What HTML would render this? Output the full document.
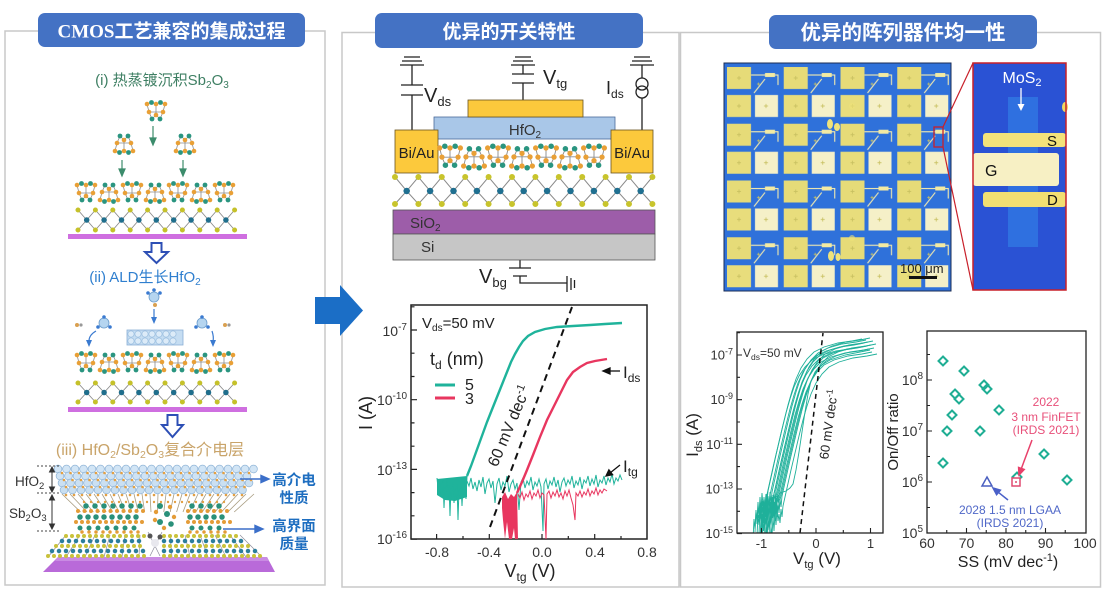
<!DOCTYPE html>
<html><head><meta charset="utf-8"><title>MoS2 device figure</title>
<style>
html,body{margin:0;padding:0;background:#fff;width:1102px;height:594px;overflow:hidden}
svg{display:block}
text{font-family:"Liberation Sans","Noto Sans CJK SC",sans-serif}
</style></head><body>
<svg xmlns="http://www.w3.org/2000/svg" width="1102" height="594" viewBox="0 0 1102 594">
<defs>
 <g id="cg">
  <path d="M-9,-7 L-4.5,-8.5 L0,-7 L4.5,-8.5 L9,-7 M-9,-7 L-7,1 L-4,8 L0,4 L4,8 L7,1 L9,-7 M0,-7 V4 M-7,1 L7,1" fill="none" stroke="#8c8c8c" stroke-width="0.8"/>
  <g fill="#e9a036"><circle cx="-9" cy="-7" r="2.3"/><circle cx="0" cy="-7" r="2.3"/><circle cx="9" cy="-7" r="2.3"/><circle cx="-7" cy="1" r="2.3"/><circle cx="7" cy="1" r="2.3"/><circle cx="0" cy="4" r="2.3"/></g>
  <g fill="#2a9580"><circle cx="-4.5" cy="-8.5" r="2.4"/><circle cx="4.5" cy="-8.5" r="2.4"/><circle cx="-4" cy="8" r="2.4"/><circle cx="4" cy="8" r="2.4"/></g>
 </g>
 <pattern id="dev" patternUnits="userSpaceOnUse" x="724" y="63" width="56.75" height="56.75">
  <rect width="56.75" height="56.75" fill="#2f71da"/>
  <rect x="3" y="4" width="24" height="22" fill="#e6db78"/>
  <rect x="3" y="32" width="24" height="22" fill="#e8dd7c"/>
  <rect x="31" y="32" width="23" height="22" fill="#f5f0c8"/>
  <path d="M27,12 H54 V22 M30,30 L41,16" fill="none" stroke="#f0e9b0" stroke-width="1.1"/>
  <rect x="41" y="10" width="10" height="4" fill="#f3eaa2"/>
  <path d="M13,15h4M15,13v4M13,43h4M15,41v4M40,43h4M42,41v4M33,21h3M34.5,19.5v3" stroke="#c8c060" stroke-width="0.8"/>
 </pattern>
 <clipPath id="clip1"><rect x="737" y="332" width="146" height="201"/></clipPath>
 <path id="c1" d="M759,533 L760,512 761,522 762,503 763,517 764,498 765,511 766,494 767,507 768,500 769,509 770,495 771,503 772,492 L776,474 780,456 784,439 788,422 792,406 796,392 800,380 805,369 811,360 818,353 828,348 842,344 856,342 866,340"/>
</defs>
<rect width="1102" height="594" fill="#fff"/>

<!-- panel borders -->
<g fill="none" stroke="#c8c8c8" stroke-width="1.5">
 <rect x="5" y="31" width="320" height="554"/>
 <rect x="342" y="32.5" width="337" height="554.5"/>
 <rect x="680.5" y="32.5" width="420" height="554.5"/>
</g>

<!-- title tabs -->
<rect x="38" y="13" width="267" height="34" rx="7" fill="#4472c4"/>
<text x="171.5" y="37.5" text-anchor="middle" font-size="19" font-weight="bold" fill="#fff"><tspan font-family="Liberation Serif">CMOS</tspan>工艺兼容的集成过程</text>
<rect x="375" y="13" width="268" height="35" rx="7" fill="#4472c4"/>
<text x="509" y="38" text-anchor="middle" font-size="19" font-weight="bold" fill="#fff">优异的开关特性</text>
<rect x="769" y="15" width="268" height="34" rx="7" fill="#4472c4"/>
<text x="903" y="39.5" text-anchor="middle" font-size="20.5" font-weight="bold" fill="#fff">优异的阵列器件均一性</text>

<!-- big blue arrow -->
<polygon points="315,297 340,297 340,285 363,310.5 340,336 340,324 315,324" fill="#1b6ec6"/>

<!-- ================= LEFT PANEL ================= -->
<text x="162" y="85" text-anchor="middle" font-size="15" fill="#3e7f63">(i) 热蒸镀沉积Sb<tspan font-size="10" dy="3">2</tspan><tspan dy="-3">O</tspan><tspan font-size="10" dy="3">3</tspan></text>

<!-- falling molecules -->
<use href="#cg" transform="translate(156,111)"/>
<use href="#cg" transform="translate(124,144) scale(1,-1)"/>
<use href="#cg" transform="translate(185,144) scale(1,-1)"/>
<g stroke="#3c8c6c" stroke-width="1.2" fill="#3c8c6c">
 <line x1="153" y1="126" x2="153" y2="139"/><polygon points="153,145 150,138 156,138"/>
 <line x1="122" y1="160" x2="122" y2="170"/><polygon points="122,176 119,169 125,169"/>
 <line x1="183" y1="160" x2="183" y2="170"/><polygon points="183,176 180,169 186,169"/>
</g>
<!-- cages row 1 -->
<use href="#cg" transform="translate(86,192)"/>
<use href="#cg" transform="translate(109,193) scale(1,-1)"/>
<use href="#cg" transform="translate(132,192)"/>
<use href="#cg" transform="translate(155,193) scale(1,-1)"/>
<use href="#cg" transform="translate(178,192)"/>
<use href="#cg" transform="translate(201,193) scale(1,-1)"/>
<use href="#cg" transform="translate(224,192)"/>
<!-- MoS2 row 1 -->
<g fill="none" stroke="#8a8a8a" stroke-width="0.9">
 <path d="M78,210 l8.7,10 8.7,-10 8.7,10 8.7,-10 8.7,10 8.7,-10 8.7,10 8.7,-10 8.7,10 8.7,-10 8.7,10 8.7,-10 8.7,10 8.7,-10 8.7,10 8.7,-10 8.7,10 8.7,-10"/>
 <path d="M78,230 l8.7,-10 8.7,10 8.7,-10 8.7,10 8.7,-10 8.7,10 8.7,-10 8.7,10 8.7,-10 8.7,10 8.7,-10 8.7,10 8.7,-10 8.7,10 8.7,-10 8.7,10 8.7,-10 8.7,10"/>
</g>
<g stroke-linecap="round">
 <line x1="78" y1="210" x2="235" y2="210" stroke="#c5c12a" stroke-width="5" stroke-dasharray="0 17.4"/>
 <line x1="78" y1="230" x2="235" y2="230" stroke="#c5c12a" stroke-width="5" stroke-dasharray="0 17.4"/>
 <line x1="86.7" y1="220" x2="227" y2="220" stroke="#1f6e8c" stroke-width="5.5" stroke-dasharray="0 17.4"/>
</g>
<rect x="68" y="234" width="179" height="5" fill="#cf6fe0"/>
<path d="M151.5,243 H161.5 V252 H168 L156.5,263 L145,252 H151.5 Z" fill="#fff" stroke="#2d4fb5" stroke-width="2"/>

<text x="145" y="282" text-anchor="middle" font-size="15" fill="#2f7fcf">(ii) ALD生长HfO<tspan font-size="10" dy="3">2</tspan></text>

<!-- ALD precursors -->
<g>
 <circle cx="154" cy="297" r="5" fill="#b5d5f0" stroke="#6a9ccc" stroke-width="0.8"/>
 <circle cx="148" cy="293" r="1.8" fill="#3a7ad0"/><circle cx="160" cy="293" r="1.8" fill="#3a7ad0"/><circle cx="154" cy="290" r="1.8" fill="#3a7ad0"/>
 <circle cx="155" cy="305" r="2" fill="#d9a050"/>
 <circle cx="104" cy="323" r="5" fill="#b5d5f0" stroke="#6a9ccc" stroke-width="0.8"/>
 <circle cx="98" cy="327" r="1.8" fill="#3a7ad0"/><circle cx="110" cy="327" r="1.8" fill="#3a7ad0"/><circle cx="104" cy="317" r="1.8" fill="#3a7ad0"/>
 <circle cx="77" cy="325" r="2" fill="#d9a050"/><circle cx="81" cy="325" r="1.6" fill="#999"/>
 <circle cx="202" cy="323" r="5" fill="#b5d5f0" stroke="#6a9ccc" stroke-width="0.8"/>
 <circle cx="196" cy="327" r="1.8" fill="#3a7ad0"/><circle cx="208" cy="327" r="1.8" fill="#3a7ad0"/><circle cx="202" cy="317" r="1.8" fill="#3a7ad0"/>
 <circle cx="225" cy="325" r="2" fill="#d9a050"/><circle cx="229" cy="325" r="1.6" fill="#999"/>
</g>
<g stroke="#3a7ad0" stroke-width="1.2" fill="none">
 <line x1="154" y1="309" x2="154" y2="318"/>
 <path d="M96,331 Q89,335 89,341"/>
 <path d="M212,331 Q214,337 213,341"/>
</g>
<g fill="#3a7ad0">
 <polygon points="154,324 151,317 157,317"/>
 <polygon points="89,347 86,340 92,340"/>
 <polygon points="213,347 210,340 216,340"/>
</g>
<!-- HfO2 block -->
<rect x="127" y="330" width="56" height="15" fill="#c5ddf2" stroke="#8ab0d6" stroke-width="0.8"/>
<g stroke-linecap="round">
 <line x1="131" y1="334" x2="180" y2="334" stroke="#9dc0e0" stroke-width="7" stroke-dasharray="0 7"/>
 <line x1="131" y1="334" x2="180" y2="334" stroke="#dcebf8" stroke-width="5.5" stroke-dasharray="0 7"/>
 <line x1="131" y1="341" x2="180" y2="341" stroke="#9dc0e0" stroke-width="7" stroke-dasharray="0 7"/>
 <line x1="131" y1="341" x2="180" y2="341" stroke="#dcebf8" stroke-width="5.5" stroke-dasharray="0 7"/>
</g>
<!-- cages row 2 -->
<use href="#cg" transform="translate(86,362)"/>
<use href="#cg" transform="translate(109,363) scale(1,-1)"/>
<use href="#cg" transform="translate(132,362)"/>
<use href="#cg" transform="translate(155,363) scale(1,-1)"/>
<use href="#cg" transform="translate(178,362)"/>
<use href="#cg" transform="translate(201,363) scale(1,-1)"/>
<use href="#cg" transform="translate(224,362)"/>
<!-- MoS2 row 2 -->
<g fill="none" stroke="#8a8a8a" stroke-width="0.9">
 <path d="M78,383 l8.7,9.5 8.7,-9.5 8.7,9.5 8.7,-9.5 8.7,9.5 8.7,-9.5 8.7,9.5 8.7,-9.5 8.7,9.5 8.7,-9.5 8.7,9.5 8.7,-9.5 8.7,9.5 8.7,-9.5 8.7,9.5 8.7,-9.5 8.7,9.5 8.7,-9.5"/>
 <path d="M78,402 l8.7,-9.5 8.7,9.5 8.7,-9.5 8.7,9.5 8.7,-9.5 8.7,9.5 8.7,-9.5 8.7,9.5 8.7,-9.5 8.7,9.5 8.7,-9.5 8.7,9.5 8.7,-9.5 8.7,9.5 8.7,-9.5 8.7,9.5 8.7,-9.5 8.7,9.5"/>
</g>
<g stroke-linecap="round">
 <line x1="78" y1="383" x2="235" y2="383" stroke="#c5c12a" stroke-width="5" stroke-dasharray="0 17.4"/>
 <line x1="78" y1="402" x2="235" y2="402" stroke="#c5c12a" stroke-width="5" stroke-dasharray="0 17.4"/>
 <line x1="86.7" y1="392.5" x2="227" y2="392.5" stroke="#1f6e8c" stroke-width="5.5" stroke-dasharray="0 17.4"/>
</g>
<rect x="68" y="407" width="179" height="5" fill="#cf6fe0"/>
<path d="M167.5,415 H177.5 V425 H183 L172.5,437 L162,425 H167.5 Z" fill="#fff" stroke="#2d4fb5" stroke-width="2"/>

<text x="150" y="455" text-anchor="middle" font-size="16" fill="#c9a46a">(iii) HfO<tspan font-size="10.5" dy="3">2</tspan><tspan dy="-3">/Sb</tspan><tspan font-size="10.5" dy="3">2</tspan><tspan dy="-3">O</tspan><tspan font-size="10.5" dy="3">3</tspan><tspan dy="-3">复合介电层</tspan></text>

<!-- 3D stack -->
<polygon points="58,557 267,557 275,572 43,572" fill="#b96ad9"/>
<polygon points="58,557 267,557 269,561 55,561" fill="#c98be3"/>
<!-- fan bonds HfO2 -> Sb2O3 -->
<path d="M62,494L80.6,512M70,494L87,512M78,494L93.4,512M86,494L99.8,512M94,494L106.2,512M102,494L112.6,512M110,494L119,512M118,494L125.4,512M126,494L131.8,512M134,494L138.2,512M142,494L144.6,512M150,494L151,512M158,494L157.4,512M166,494L163.8,512M174,494L170.2,512M182,494L176.6,512M190,494L183,512M198,494L189.4,512M206,494L195.8,512M214,494L202.2,512M222,494L208.6,512M230,494L215,512M238,494L221.4,512M246,494L227.8,512M254,494L234.2,512" stroke="#a89c80" stroke-width="0.8" fill="none"/>
<!-- MoS2 3D bonds -->
<path d="M66,535L48,557M80,535L66,557M95,535L85,557M110,535L104,557M125,535L122,557M140,535L139,557M170,535L172,557M185,535L190,557M200,535L208,557M215,535L226,557M230,535L246,557M240,535L262,557M148,532L160,556M162,532L150,556" stroke="#8c8c9c" stroke-width="0.7" fill="none"/>
<g stroke-linecap="round" fill="none">
 <line x1="66" y1="536" x2="146" y2="536" stroke="#c9c23a" stroke-width="4" stroke-dasharray="0 6"/>
 <line x1="164" y1="536" x2="240" y2="536" stroke="#c9c23a" stroke-width="4" stroke-dasharray="0 6"/>
 <line x1="62" y1="541" x2="146" y2="541" stroke="#2c7e9c" stroke-width="4.5" stroke-dasharray="0 7"/>
 <line x1="164" y1="541" x2="246" y2="541" stroke="#2c7e9c" stroke-width="4.5" stroke-dasharray="0 7"/>
 <line x1="56" y1="546" x2="146" y2="546" stroke="#c9c23a" stroke-width="4" stroke-dasharray="0 6"/>
 <line x1="164" y1="546" x2="252" y2="546" stroke="#c9c23a" stroke-width="4" stroke-dasharray="0 6"/>
 <line x1="52" y1="551" x2="146" y2="551" stroke="#2c7e9c" stroke-width="4.5" stroke-dasharray="0 7"/>
 <line x1="164" y1="551" x2="258" y2="551" stroke="#2c7e9c" stroke-width="4.5" stroke-dasharray="0 7"/>
 <line x1="48" y1="556" x2="146" y2="556" stroke="#c9c23a" stroke-width="4" stroke-dasharray="0 6"/>
 <line x1="164" y1="556" x2="262" y2="556" stroke="#c9c23a" stroke-width="4" stroke-dasharray="0 6"/>
</g>
<circle cx="155" cy="543" r="4" fill="#e8e8ee"/><circle cx="150" cy="536" r="2.5" fill="#555"/><circle cx="160" cy="537" r="2.5" fill="#555"/>
<!-- Sb2O3 clusters -->
<g stroke-linecap="round" fill="none">
 <line x1="86" y1="506" x2="142" y2="506" stroke="#2a907a" stroke-width="5.5" stroke-dasharray="0 9"/>
 <line x1="192" y1="506" x2="228" y2="506" stroke="#2a907a" stroke-width="5.5" stroke-dasharray="0 9"/>
 <line x1="78" y1="511" x2="146" y2="511" stroke="#e49c38" stroke-width="4" stroke-dasharray="0 6.5"/>
 <line x1="188" y1="511" x2="230" y2="511" stroke="#e49c38" stroke-width="4" stroke-dasharray="0 6.5"/>
 <line x1="80" y1="517" x2="144" y2="517" stroke="#2a907a" stroke-width="5.5" stroke-dasharray="0 8"/>
 <line x1="190" y1="517" x2="230" y2="517" stroke="#2a907a" stroke-width="5.5" stroke-dasharray="0 8"/>
 <line x1="76" y1="522" x2="146" y2="522" stroke="#e49c38" stroke-width="4" stroke-dasharray="0 6"/>
 <line x1="188" y1="522" x2="232" y2="522" stroke="#e49c38" stroke-width="4" stroke-dasharray="0 6"/>
 <line x1="80" y1="528" x2="142" y2="528" stroke="#2a907a" stroke-width="5" stroke-dasharray="0 9"/>
 <line x1="192" y1="528" x2="228" y2="528" stroke="#2a907a" stroke-width="5" stroke-dasharray="0 9"/>
 <line x1="82" y1="532" x2="144" y2="532" stroke="#e49c38" stroke-width="3.5" stroke-dasharray="0 7"/>
 <line x1="190" y1="532" x2="228" y2="532" stroke="#e49c38" stroke-width="3.5" stroke-dasharray="0 7"/>
</g>
<g>
 <circle cx="160" cy="506" r="3" fill="#2a907a"/><circle cx="167" cy="514" r="3" fill="#2a907a"/><circle cx="160" cy="522" r="3" fill="#2a907a"/><circle cx="171" cy="524" r="2.8" fill="#2a907a"/>
 <circle cx="156" cy="512" r="2.2" fill="#e49c38"/><circle cx="170" cy="507" r="2.2" fill="#e49c38"/><circle cx="164" cy="528" r="2.2" fill="#e49c38"/><circle cx="155" cy="520" r="2.2" fill="#e49c38"/><circle cx="174" cy="517" r="2.2" fill="#e49c38"/>
</g>
<!-- HfO2 sphere layer -->
<g stroke-linecap="round" fill="none">
 <line x1="58" y1="469" x2="256" y2="469" stroke="#92b6d8" stroke-width="8.5" stroke-dasharray="0 8.5"/>
 <line x1="58" y1="469" x2="256" y2="469" stroke="#d2e5f5" stroke-width="7" stroke-dasharray="0 8.5"/>
 <line x1="60" y1="476" x2="255" y2="476" stroke="#92b6d8" stroke-width="8.5" stroke-dasharray="0 8.5"/>
 <line x1="60" y1="476" x2="255" y2="476" stroke="#cfe3f4" stroke-width="7" stroke-dasharray="0 8.5"/>
 <line x1="62" y1="483" x2="253" y2="483" stroke="#92b6d8" stroke-width="8.5" stroke-dasharray="0 8.5"/>
 <line x1="62" y1="483" x2="253" y2="483" stroke="#cbe0f2" stroke-width="7" stroke-dasharray="0 8.5"/>
 <line x1="64" y1="490" x2="251" y2="490" stroke="#92b6d8" stroke-width="8.5" stroke-dasharray="0 8.5"/>
 <line x1="64" y1="490" x2="251" y2="490" stroke="#c8def0" stroke-width="7" stroke-dasharray="0 8.5"/>
 <line x1="62" y1="473" x2="254" y2="473" stroke="#e3a043" stroke-width="2.6" stroke-dasharray="0 8.5"/>
 <line x1="64" y1="480" x2="253" y2="480" stroke="#e3a043" stroke-width="2.6" stroke-dasharray="0 8.5"/>
 <line x1="66" y1="487" x2="251" y2="487" stroke="#e3a043" stroke-width="2.6" stroke-dasharray="0 8.5"/>
 <line x1="66" y1="495" x2="250" y2="495" stroke="#e3a043" stroke-width="2.6" stroke-dasharray="0 8"/>
 <line x1="84" y1="502" x2="230" y2="502" stroke="#e3a043" stroke-width="2.4" stroke-dasharray="0 7"/>
</g>
<!-- thickness labels -->
<g stroke="#444" stroke-width="0.9" stroke-dasharray="2 2" fill="none">
 <line x1="37" y1="466" x2="60" y2="466"/><line x1="37" y1="493" x2="60" y2="493"/><line x1="37" y1="531" x2="60" y2="531"/>
</g>
<g stroke="#333" stroke-width="1" fill="#333">
 <line x1="52" y1="470" x2="52" y2="489"/><polygon points="52,467 49.5,472 54.5,472"/><polygon points="52,492 49.5,487 54.5,487"/>
 <line x1="52" y1="498" x2="52" y2="526"/><polygon points="52,495 49.5,500 54.5,500"/><polygon points="52,529 49.5,524 54.5,524"/>
</g>
<text x="15" y="486" font-size="13.5" fill="#333">HfO<tspan font-size="9.5" dy="3">2</tspan></text>
<text x="9" y="518" font-size="13.5" fill="#333">Sb<tspan font-size="9.5" dy="3">2</tspan><tspan dy="-3">O</tspan><tspan font-size="9.5" dy="3">3</tspan></text>
<!-- right labels -->
<g stroke="#3b6fc9" stroke-width="1.4" fill="#3b6fc9">
 <line x1="240" y1="479" x2="262" y2="479"/><polygon points="269,479 261,475.5 261,482.5"/>
 <line x1="223" y1="529" x2="256" y2="529"/><polygon points="263,529 255,525.5 255,532.5"/>
</g>
<g font-size="14.5" font-weight="bold" fill="#1e6ec0" text-anchor="middle">
 <text x="294" y="485">高介电</text><text x="294" y="503">性质</text>
 <text x="294" y="531">高界面</text><text x="294" y="549">质量</text>
</g>

<!-- ================= MIDDLE PANEL ================= -->
<g stroke="#222" stroke-width="1.3" fill="none">
 <!-- grounds -->
 <path d="M404,57h16M402,61h20M400,65h24"/>
 <path d="M515,57h16M513,61h20M511,65h24"/>
 <path d="M634,57h16M632,61h20M630,65h24"/>
 <!-- Vds -->
 <path d="M412,65V85M401,85h22M401,95h22M412,95V130"/>
 <!-- Vtg -->
 <path d="M523,65V74M512,74h22M512,83h22M523,83V100"/>
 <!-- Ids -->
 <path d="M642,65V78M642,98V130"/>
 <circle cx="642" cy="84" r="6"/><circle cx="642" cy="92" r="6"/>
 <!-- Vbg -->
 <path d="M520,260V268M509,268h22M513,276h14M520,276V283H567M567,276V292M571,278V290M574.5,280V288"/>
</g>
<text x="424" y="102" font-size="20" fill="#222">V<tspan font-size="13" dy="4">ds</tspan></text>
<text x="543" y="84" font-size="20" fill="#222">V<tspan font-size="13" dy="4">tg</tspan></text>
<text x="606" y="94" font-size="18" fill="#222">I<tspan font-size="12" dy="4">ds</tspan></text>
<text x="479" y="283" font-size="20" fill="#222">V<tspan font-size="13" dy="4">bg</tspan></text>

<rect x="434" y="117" width="181" height="22" fill="#a9c7e8" stroke="#4a6a9a" stroke-width="0.8"/>
<rect x="468" y="100" width="115" height="17" fill="#fcc93c" stroke="#6a5520" stroke-width="0.8"/>
<text x="525" y="135" text-anchor="middle" font-size="15" fill="#333">HfO<tspan font-size="10" dy="3">2</tspan></text>
<rect x="395" y="130" width="43" height="43" fill="#fcc93c" stroke="#6a5520" stroke-width="0.8"/>
<rect x="611" y="130" width="42" height="43" fill="#fcc93c" stroke="#6a5520" stroke-width="0.8"/>
<text x="416.5" y="158" text-anchor="middle" font-size="15" fill="#222">Bi/Au</text>
<text x="632" y="158" text-anchor="middle" font-size="15" fill="#222">Bi/Au</text>
<!-- cages middle -->
<use href="#cg" transform="translate(450,156) scale(1.15)"/>
<use href="#cg" transform="translate(474,158) scale(1.15,-1.15)"/>
<use href="#cg" transform="translate(498,156) scale(1.15)"/>
<use href="#cg" transform="translate(522,158) scale(1.15,-1.15)"/>
<use href="#cg" transform="translate(546,156) scale(1.15)"/>
<use href="#cg" transform="translate(570,158) scale(1.15,-1.15)"/>
<use href="#cg" transform="translate(594,156) scale(1.15)"/>
<!-- MoS2 middle -->
<g fill="none" stroke="#8a8a8a" stroke-width="1">
 <path d="M395,177 l11.7,14 11.7,-14 11.7,14 11.7,-14 11.7,14 11.7,-14 11.7,14 11.7,-14 11.7,14 11.7,-14 11.7,14 11.7,-14 11.7,14 11.7,-14 11.7,14 11.7,-14 11.7,14 11.7,-14 11.7,14 11.7,-14 11.7,14 11.7,-14"/>
 <path d="M395,204 l11.7,-13 11.7,13 11.7,-13 11.7,13 11.7,-13 11.7,13 11.7,-13 11.7,13 11.7,-13 11.7,13 11.7,-13 11.7,13 11.7,-13 11.7,13 11.7,-13 11.7,13 11.7,-13 11.7,13 11.7,-13 11.7,13 11.7,-13 11.7,13"/>
</g>
<g stroke-linecap="round">
 <line x1="395" y1="177" x2="653" y2="177" stroke="#c8c42c" stroke-width="6" stroke-dasharray="0 23.4"/>
 <line x1="395" y1="204" x2="653" y2="204" stroke="#c8c42c" stroke-width="6" stroke-dasharray="0 23.4"/>
 <line x1="406.7" y1="191" x2="642" y2="191" stroke="#1f6f90" stroke-width="6.5" stroke-dasharray="0 23.4"/>
</g>
<rect x="393" y="210" width="262" height="24" fill="#9d5da9" stroke="#555" stroke-width="0.8"/>
<rect x="393" y="234" width="262" height="26" fill="#c6c6c6" stroke="#555" stroke-width="0.8"/>
<text x="410" y="228" font-size="15" fill="#333">SiO<tspan font-size="10" dy="3">2</tspan></text>
<text x="421" y="252" font-size="15" fill="#333">Si</text>

<!-- middle chart -->
<rect x="411" y="305" width="236" height="234" fill="none" stroke="#222" stroke-width="1.5"/>
<path d="M411,539.1h6M411,469.4h6M411,399.7h6M411,330h6M411,515.8h3.5M411,492.6h3.5M411,446.2h3.5M411,422.9h3.5M411,376.5h3.5M411,353.2h3.5M411,306.8h3.5M436.6,539v-5M489.3,539v-5M542,539v-5M594.7,539v-5M463,539v-3M515.7,539v-3M568.3,539v-3M621,539v-3" stroke="#222" stroke-width="1.2" fill="none"/>
<g font-size="14" fill="#333" text-anchor="end">
 <text x="407" y="336">10<tspan font-size="10" dy="-6">-7</tspan></text>
 <text x="407" y="405">10<tspan font-size="10" dy="-6">-10</tspan></text>
 <text x="407" y="475">10<tspan font-size="10" dy="-6">-13</tspan></text>
 <text x="407" y="544">10<tspan font-size="10" dy="-6">-16</tspan></text>
</g>
<g font-size="14" fill="#333" text-anchor="middle">
 <text x="437" y="557">-0.8</text><text x="489" y="557">-0.4</text><text x="542" y="557">0.0</text><text x="595" y="557">0.4</text><text x="647" y="557">0.8</text>
</g>
<text transform="translate(372,413) rotate(-90)" text-anchor="middle" font-size="18" fill="#222">I (A)</text>
<text x="530" y="577" text-anchor="middle" font-size="18" fill="#222">V<tspan font-size="12" dy="4">tg</tspan><tspan dy="-4"> (V)</tspan></text>
<text x="422" y="328" font-size="15" fill="#222">V<tspan font-size="10" dy="3">ds</tspan><tspan dy="-3">=50 mV</tspan></text>
<text x="430" y="365" font-size="18" fill="#222">t<tspan font-size="12" dy="4">d</tspan><tspan dy="-4"> (nm)</tspan></text>
<line x1="435" y1="385" x2="455" y2="385" stroke="#1fb39b" stroke-width="3"/>
<line x1="435" y1="398" x2="455" y2="398" stroke="#e8365f" stroke-width="3"/>
<text x="465" y="390" font-size="16" fill="#222">5</text>
<text x="465" y="404" font-size="16" fill="#222">3</text>
<!-- teal curves -->
<polygon points="437,479 467,476 467,497 455,501 445,500 437,495" fill="#1fb39b"/>
<polyline fill="none" stroke="#1fb39b" stroke-width="1" points="437,478 438,488 439,480 440,495 441,483 442,490 443,479 444,508 445,486 446,494 447,481 448,498 449,484 450,516 451,487 452,493 453,482 454,503 455,488 456,497 457,483 458,520 459,489 460,495 461,484 462,506 463,487 464,493 465,481 466,499 467,476"/>
<polyline fill="none" stroke="#1fb39b" stroke-width="1" points="467,481 469,486 471,478 473,489 475,482 477,491 479,480 481,487 483,477 485,494 487,483 489,479 491,488 493,481 495,503 497,484 499,478 501,490 503,482 505,486 507,476 509,492 511,484 513,480 515,489 517,483 519,510 521,482 523,478 525,488 527,481 529,485 531,477 533,490 535,482 537,486 539,479 541,487 543,531 544,484 546,479 548,489 550,481 552,485 554,477 556,487 558,480 560,492 562,482 564,478 566,486 568,480 570,484 572,476 574,488 576,481 578,485 580,477 582,489 584,480 586,483 588,476 590,486 592,479 594,484 596,475 598,487 600,480 602,483 604,476 606,485 608,478 610,482 612,474 614,484 616,478 618,481 620,475 622,480"/>
<polyline fill="none" stroke="#1fb39b" stroke-width="2.4" points="467,476 471,466 475,455 479,444 483,433 487,422 491,412 495,402 499,392 503,382 507,372 511,362 515,354 519,347 523,341 528,336 535,332 545,329 557,327 573,326 590,325 605,324 622,323"/>
<!-- red curves -->
<polygon points="502,497 505,492 508,499 511,494 514,497 517,492 518,539 515,539 514,528 512,539 509,539 507,522 505,539 503,520 502,508" fill="#e8365f"/>
<polyline fill="none" stroke="#e8365f" stroke-width="1" points="518,494 520,498 522,492 524,500 526,494 528,497 530,491 532,499 534,493 536,496 538,490 540,498 542,493 544,495 546,539 547,494 549,491 551,498 553,492 555,496 557,490 559,497 561,493 563,499 565,491 567,496 569,490 571,498 573,505 575,520 576,493 578,496 580,491 582,497 584,492 586,495 588,489 590,496 592,491 594,494 596,488 598,495 600,490 602,493 604,489 607,491"/>
<polyline fill="none" stroke="#e8365f" stroke-width="2.4" points="517,493 522,482 527,470 533,455 540,437 547,420 553,408 560,394 567,380 573,372 580,367 587,363 595,361 607,359"/>
<!-- dashed 60 mV/dec -->
<line x1="490" y1="527" x2="572" y2="307" stroke="#111" stroke-width="2" stroke-dasharray="7 5"/>
<text transform="translate(514,428) rotate(-67)" text-anchor="middle" font-size="16" fill="#222">60 mV dec<tspan font-size="11" dy="-6">-1</tspan></text>
<!-- annotations -->
<g stroke="#111" stroke-width="1.3" fill="#111">
 <line x1="609" y1="371" x2="620" y2="371"/><polygon points="603,371 610,368 610,374"/>
 <line x1="620" y1="465" x2="610" y2="473"/><polygon points="606,476 612.6,474.7 608.9,469.9"/>
</g>
<text x="623" y="378" font-size="17" fill="#222">I<tspan font-size="12" dy="4">ds</tspan></text>
<text x="623" y="472" font-size="17" fill="#222">I<tspan font-size="12" dy="4">tg</tspan></text>

<!-- ================= RIGHT PANEL ================= -->
<rect x="724" y="63" width="227" height="228" fill="url(#dev)" stroke="#1b2d55" stroke-width="1"/>
<g fill="#efe27a">
 <ellipse cx="830" cy="124" rx="3" ry="5"/><ellipse cx="837" cy="127" rx="3" ry="4"/>
 <ellipse cx="831" cy="256" rx="3" ry="5"/><ellipse cx="838" cy="257" rx="2.5" ry="4"/>
 <ellipse cx="852" cy="106" rx="3" ry="3" opacity="0.6"/><ellipse cx="852" cy="238" rx="3" ry="3" opacity="0.6"/>
</g>
<text x="900" y="273" font-size="13" fill="#222">100 μm</text>
<rect x="909" y="276" width="28" height="3" fill="#111"/>
<rect x="934" y="127" width="9" height="20" fill="none" stroke="#c8202a" stroke-width="1.3"/>
<line x1="943" y1="127" x2="973" y2="63" stroke="#c8202a" stroke-width="1.2"/>
<line x1="943" y1="147" x2="973" y2="290" stroke="#c8202a" stroke-width="1.2"/>
<rect x="973" y="63" width="93" height="227" fill="#2a52d4"/>
<rect x="1008" y="97" width="30" height="150" fill="#2f70e0"/>
<rect x="983" y="133" width="83" height="14" rx="3" fill="#f3e27a"/>
<rect x="973" y="153" width="86" height="33" rx="3" fill="#f7f0c4"/>
<rect x="983" y="192" width="83" height="15" rx="3" fill="#f2df72"/>
<ellipse cx="1065" cy="107" rx="3" ry="5" fill="#f0d860"/>
<rect x="973" y="63" width="93" height="227" fill="none" stroke="#c8202a" stroke-width="1.5"/>
<text x="1022" y="83" text-anchor="middle" font-size="16" fill="#fff">MoS<tspan font-size="11" dy="3">2</tspan></text>
<line x1="1021" y1="88" x2="1021" y2="105" stroke="#fff" stroke-width="1.3"/>
<polygon points="1021,111 1017.5,104 1024.5,104" fill="#fff"/>
<text x="1047" y="146" font-size="15" fill="#111">S</text>
<text x="985" y="176" font-size="16" fill="#111">G</text>
<text x="1047" y="205" font-size="15" fill="#111">D</text>

<!-- right chart 1 -->
<g clip-path="url(#clip1)" fill="none" stroke="#1fb09a" stroke-width="0.9">
 <use href="#c1" transform="translate(-4,-1)"/>
 <use href="#c1" transform="translate(-2,3)"/>
 <use href="#c1"/>
 <use href="#c1" transform="translate(1,6)"/>
 <use href="#c1" transform="translate(2,2)"/>
 <use href="#c1" transform="translate(3,9)"/>
 <use href="#c1" transform="translate(4,-2)"/>
 <use href="#c1" transform="translate(5,5)"/>
 <use href="#c1" transform="translate(6,12)"/>
 <use href="#c1" transform="translate(7,1)"/>
 <use href="#c1" transform="translate(8,8)"/>
 <use href="#c1" transform="translate(10,4)"/>
 <use href="#c1" transform="translate(11,14)"/>
 <use href="#c1" transform="translate(-6,7)"/>
 <polyline points="776,505 778,496 780,493 783,492 786,491 790,488 793,484 796,470 799,452 802,432 805,412 808,394 811,381 815,372 820,366 830,360 845,355 870,350"/>
</g>
<line x1="800" y1="533" x2="823" y2="333" stroke="#111" stroke-width="1.5" stroke-dasharray="5 4"/>
<rect x="737" y="332" width="146" height="201" fill="none" stroke="#222" stroke-width="1.3"/>
<path d="M737,533.6h5M737,489h5M737,444.3h5M737,399.7h5M737,355h5M737,511.3h3M737,466.6h3M737,422h3M737,377.3h3M737,332.7h3M761.5,533v-5M816,533v-5M870.5,533v-5M788.8,533v-3M843.3,533v-3" stroke="#222" stroke-width="1.1" fill="none"/>
<g font-size="13" fill="#333" text-anchor="end">
 <text x="733" y="359.5">10<tspan font-size="9" dy="-5">-7</tspan></text>
 <text x="733" y="404">10<tspan font-size="9" dy="-5">-9</tspan></text>
 <text x="733" y="449">10<tspan font-size="9" dy="-5">-11</tspan></text>
 <text x="733" y="493.5">10<tspan font-size="9" dy="-5">-13</tspan></text>
 <text x="733" y="538">10<tspan font-size="9" dy="-5">-15</tspan></text>
</g>
<g font-size="13" fill="#333" text-anchor="middle">
 <text x="761.5" y="548">-1</text><text x="816" y="548">0</text><text x="870.5" y="548">1</text>
</g>
<text transform="translate(698,435) rotate(-90)" text-anchor="middle" font-size="17" fill="#222">I<tspan font-size="11" dy="4">ds</tspan><tspan dy="-4"> (A)</tspan></text>
<text x="817" y="564" text-anchor="middle" font-size="17" fill="#222">V<tspan font-size="11" dy="4">tg</tspan><tspan dy="-4"> (V)</tspan></text>
<text x="743" y="357" font-size="12" fill="#333">V<tspan font-size="8.5" dy="3">ds</tspan><tspan dy="-3">=50 mV</tspan></text>
<text transform="translate(833,425) rotate(-82)" text-anchor="middle" font-size="13" fill="#222">60 mV dec<tspan font-size="9" dy="-5">-1</tspan></text>

<!-- scatter chart -->
<rect x="927" y="331" width="159" height="202" fill="none" stroke="#222" stroke-width="1.3"/>
<path d="M927,482h5M927,431h5M927,380h5M966.5,533v-5M1006,533v-5M1045.5,533v-5M946.75,533v-3M986.25,533v-3M1025.75,533v-3M1065.25,533v-3M927,507.5h3M927,456.5h3M927,405.5h3M927,354.5h3" stroke="#222" stroke-width="1.1" fill="none"/>
<g font-size="14" fill="#333" text-anchor="end">
 <text x="923" y="385">10<tspan font-size="10" dy="-6">8</tspan></text>
 <text x="923" y="436">10<tspan font-size="10" dy="-6">7</tspan></text>
 <text x="923" y="487">10<tspan font-size="10" dy="-6">6</tspan></text>
 <text x="923" y="538">10<tspan font-size="10" dy="-6">5</tspan></text>
</g>
<g font-size="14" fill="#333" text-anchor="middle">
 <text x="927" y="548">60</text><text x="966.5" y="548">70</text><text x="1006" y="548">80</text><text x="1045.5" y="548">90</text><text x="1085" y="548">100</text>
</g>
<text transform="translate(898,432) rotate(-90)" text-anchor="middle" font-size="15" fill="#222">On/Off ratio</text>
<text x="1008" y="567" text-anchor="middle" font-size="16" fill="#222">SS (mV dec<tspan font-size="11" dy="-6">-1</tspan><tspan dy="6">)</tspan></text>
<g fill="none" stroke="#1fae94" stroke-width="2">
 <polygon points="943,356.5 947.5,361 943,365.5 938.5,361"/>
 <polygon points="964,366.5 968.5,371 964,375.5 959.5,371"/>
 <polygon points="955,389.5 959.5,394 955,398.5 950.5,394"/>
 <polygon points="959,394.5 963.5,399 959,403.5 954.5,399"/>
 <polygon points="984,380.5 988.5,385 984,389.5 979.5,385"/>
 <polygon points="987,384.5 991.5,389 987,393.5 982.5,389"/>
 <polygon points="999,405.5 1003.5,410 999,414.5 994.5,410"/>
 <polygon points="952,410.5 956.5,415 952,419.5 947.5,415"/>
 <polygon points="947,426.5 951.5,431 947,435.5 942.5,431"/>
 <polygon points="980,426.5 984.5,431 980,435.5 975.5,431"/>
 <polygon points="943,458.5 947.5,463 943,467.5 938.5,463"/>
 <polygon points="1044,449.5 1048.5,454 1044,458.5 1039.5,454"/>
 <polygon points="1017,472.5 1021.5,477 1017,481.5 1012.5,477"/>
 <polygon points="1067,475.5 1071.5,480 1067,484.5 1062.5,480"/>
</g>
<polygon points="987,477 992,486 982,486" fill="none" stroke="#4a5fc0" stroke-width="1.5"/>
<rect x="1012" y="478" width="8" height="8" fill="#fff" stroke="#e04a70" stroke-width="1.5"/>
<circle cx="1016" cy="482" r="1" fill="#e04a70"/>
<g font-size="12" fill="#e8507a" text-anchor="middle">
 <text x="1046" y="406">2022</text><text x="1046" y="421">3 nm FinFET</text><text x="1046" y="434">(IRDS 2021)</text>
</g>
<g stroke="#e8406a" stroke-width="1.5" fill="#e8406a">
 <line x1="1032" y1="440" x2="1021.4" y2="468.4"/><polygon points="1019,475 1024.2,469.4 1018.6,467.4"/>
</g>
<g font-size="12" fill="#5068c8" text-anchor="middle">
 <text x="1010" y="514">2028 1.5 nm LGAA</text><text x="1010" y="527">(IRDS 2021)</text>
</g>
<g stroke="#4a60c8" stroke-width="1.5" fill="#4a60c8">
 <line x1="1008" y1="500" x2="998.5" y2="492.4"/><polygon points="993,488 1000.4,490.1 996.6,494.7"/>
</g>
</svg>
</body></html>
